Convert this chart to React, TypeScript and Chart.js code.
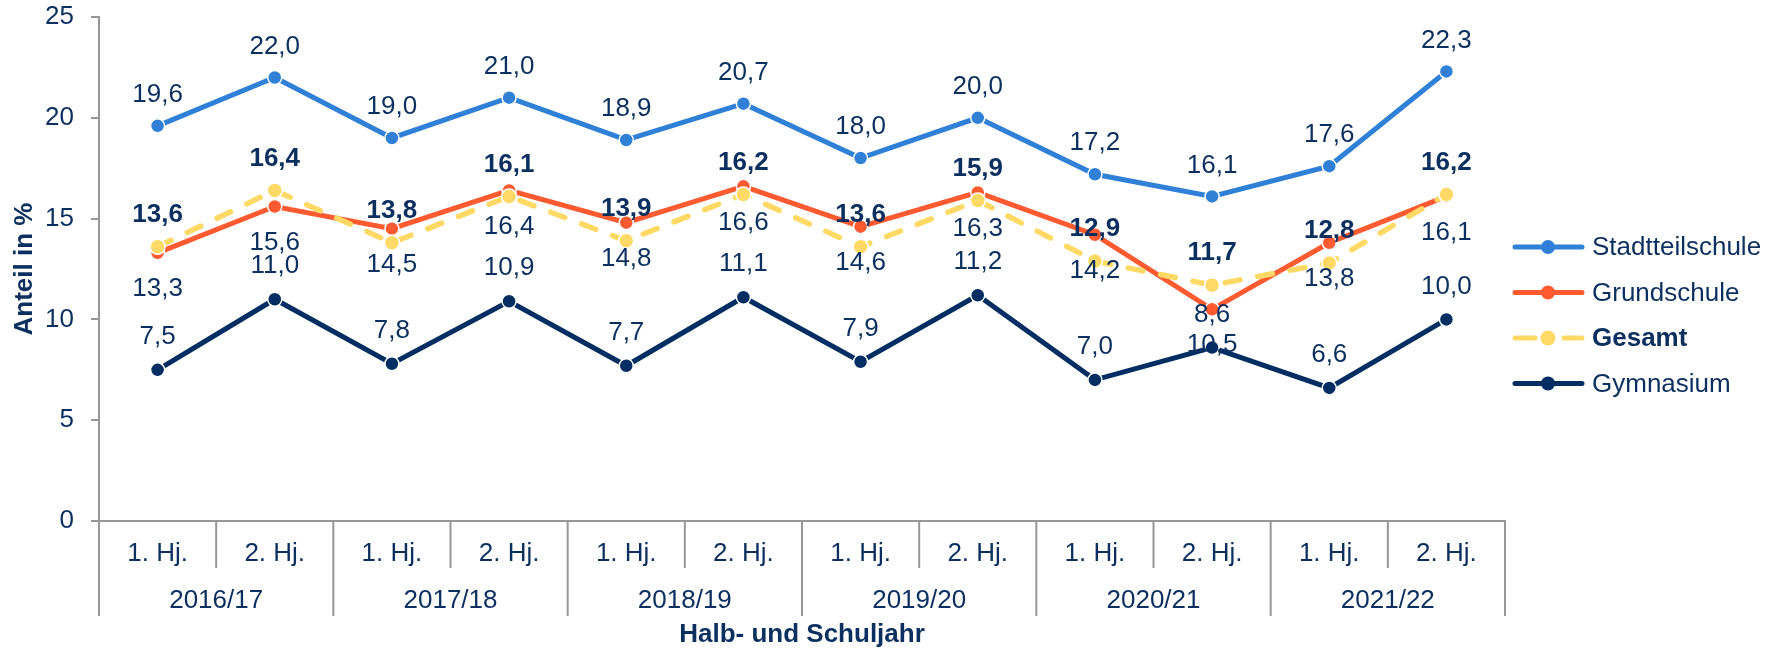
import React, { useEffect, useRef } from 'react';
import { Chart, registerables } from 'chart.js';

Chart.register(...registerables);

// ---------- data ----------
const halfYears = ['1. Hj.', '2. Hj.', '1. Hj.', '2. Hj.', '1. Hj.', '2. Hj.', '1. Hj.', '2. Hj.', '1. Hj.', '2. Hj.', '1. Hj.', '2. Hj.'];
const schoolYears = ['2016/17', '2017/18', '2018/19', '2019/20', '2020/21', '2021/22'];
const stadtteilschule = [19.6, 22.0, 19.0, 21.0, 18.9, 20.7, 18.0, 20.0, 17.2, 16.1, 17.6, 22.3];
const grundschule = [13.3, 15.6, 14.5, 16.4, 14.8, 16.6, 14.6, 16.3, 14.2, 10.5, 13.8, 16.1];
const gesamt = [13.6, 16.4, 13.8, 16.1, 13.9, 16.2, 13.6, 15.9, 12.9, 11.7, 12.8, 16.2];
const gymnasium = [7.5, 11.0, 7.8, 10.9, 7.7, 11.1, 7.9, 11.2, 7.0, 8.6, 6.6, 10.0];
const yMin = 0;
const yMax = 25;
const yStep = 5;
const yAxisTitle = 'Anteil in %';
const xAxisTitle = 'Halb- und Schuljahr';

// ---------- style ----------
const FONT = '"Liberation Sans", Arial, Helvetica, sans-serif';
const TEXT = '#0b2f5e';
const AXIS = '#979797';
const C_STADT = '#2f80d6';
const C_GRUND = '#ff5a30';
const C_GESAMT = '#ffd966';
const C_GYM = '#002d62';
const FS = 26;

const fmt = (v: number) => v.toFixed(1).replace('.', ',');

const decorPlugin = {
  id: 'decor',
  afterDatasetsDraw(chart: any) {
    const ctx = chart.ctx;
    ctx.save();
    ctx.textAlign = 'center';
    ctx.textBaseline = 'middle';
    ctx.fillStyle = TEXT;
    chart.data.datasets.forEach((ds: any, di: number) => {
      const meta = chart.getDatasetMeta(di);
      ctx.font = `${ds.labelBold ? 'bold ' : ''}${FS}px ${FONT}`;
      meta.data.forEach((pt: any, i: number) => {
        ctx.fillText(fmt(ds.data[i]), pt.x, pt.y + ds.labelOffset);
      });
    });
    ctx.restore();
  },
  afterDraw(chart: any) {
    const ctx = chart.ctx;
    const xs = chart.scales.x;
    const area = chart.chartArea;
    const n = halfYears.length;
    ctx.save();
    // separators below the x axis
    ctx.strokeStyle = AXIS;
    ctx.lineWidth = 2;
    for (let i = 0; i <= n; i++) {
      let px;
      if (i === 0) px = area.left;
      else if (i === n) px = area.right;
      else px = (xs.getPixelForValue(i - 1) + xs.getPixelForValue(i)) / 2;
      const len = i % 2 === 0 ? 95 : 47;
      ctx.beginPath();
      ctx.moveTo(px, area.bottom);
      ctx.lineTo(px, area.bottom + len);
      ctx.stroke();
    }
    // school year labels
    ctx.fillStyle = TEXT;
    ctx.textAlign = 'center';
    ctx.textBaseline = 'middle';
    ctx.font = `${FS}px ${FONT}`;
    schoolYears.forEach((lab, k) => {
      const cx = (xs.getPixelForValue(2 * k) + xs.getPixelForValue(2 * k + 1)) / 2;
      ctx.fillText(lab, cx, area.bottom + 80);
    });
    // x axis title
    ctx.font = `bold ${FS}px ${FONT}`;
    ctx.fillText(xAxisTitle, (area.left + area.right) / 2, area.bottom + 114);

    // legend
    const lx0 = area.right + 8;
    const lx1 = area.right + 79;
    const mx = area.right + 43;
    const tx = area.right + 87;
    const ly0 = 247;
    const gap = 45.5;
    chart.data.datasets.forEach((ds: any) => {
      const y = ly0 + gap * ds.legendIndex;
      ctx.strokeStyle = ds.borderColor;
      ctx.lineWidth = 5;
      ctx.lineCap = 'round';
      if (ds.borderDash && ds.borderDash.length) {
        ctx.beginPath();
        ctx.moveTo(lx0 + 2, y); ctx.lineTo(lx0 + 22, y);
        ctx.moveTo(lx1 - 20, y); ctx.lineTo(lx1 - 2, y);
        ctx.stroke();
      } else {
        ctx.beginPath();
        ctx.moveTo(lx0 + 2, y); ctx.lineTo(lx1 - 2, y);
        ctx.stroke();
      }
      ctx.beginPath();
      ctx.fillStyle = ds.pointBackgroundColor;
      ctx.arc(mx, y, ds.pointRadius, 0, Math.PI * 2);
      ctx.fill();
      ctx.fillStyle = TEXT;
      ctx.textAlign = 'left';
      ctx.textBaseline = 'middle';
      ctx.font = `${ds.labelBold ? 'bold ' : ''}${FS}px ${FONT}`;
      ctx.fillText(ds.label, tx, y + 1);
    });
    ctx.restore();
  },
};

export default function App() {
  const ref = useRef<HTMLCanvasElement | null>(null);

  useEffect(() => {
    document.body.style.margin = '0';
    const canvas = ref.current;
    if (!canvas) return;
    Chart.defaults.font.family = FONT;
    const common = {
      pointBorderColor: '#ffffff',
      pointBorderWidth: 1.5,
      tension: 0,
      fill: false,
    };
    const chart = new Chart(canvas, {
      type: 'line',
      data: {
        labels: halfYears,
        datasets: [
          {
            ...common,
            label: 'Stadtteilschule',
            data: stadtteilschule,
            borderColor: C_STADT,
            backgroundColor: C_STADT,
            pointBackgroundColor: C_STADT,
            borderWidth: 5,
            pointRadius: 7,
            order: 4,
            labelOffset: -31,
            labelBold: false,
            legendIndex: 0,
          } as any,
          {
            ...common,
            label: 'Grundschule',
            data: grundschule,
            borderColor: C_GRUND,
            backgroundColor: C_GRUND,
            pointBackgroundColor: C_GRUND,
            borderWidth: 5,
            pointRadius: 7,
            order: 3,
            labelOffset: 36,
            labelBold: false,
            legendIndex: 1,
          } as any,
          {
            ...common,
            label: 'Gesamt',
            data: gesamt,
            borderColor: C_GESAMT,
            backgroundColor: C_GESAMT,
            pointBackgroundColor: C_GESAMT,
            borderWidth: 5.5,
            borderDash: [15, 18],
            borderCapStyle: 'round',
            pointRadius: 7.5,
            order: 2,
            labelOffset: -32,
            labelBold: true,
            legendIndex: 2,
          } as any,
          {
            ...common,
            label: 'Gymnasium',
            data: gymnasium,
            borderColor: C_GYM,
            backgroundColor: C_GYM,
            pointBackgroundColor: C_GYM,
            borderWidth: 5,
            pointRadius: 7,
            order: 1,
            labelOffset: -33,
            labelBold: false,
            legendIndex: 3,
          } as any,
        ],
      },
      options: {
        responsive: false,
        animation: false,
        events: [],
        layout: { padding: { left: 0, top: 17, right: 276, bottom: 0 } },
        plugins: {
          legend: { display: false },
          tooltip: { enabled: false },
          title: { display: false },
        },
        scales: {
          x: {
            type: 'category',
            offset: true,
            grid: { display: false, drawTicks: false, drawOnChartArea: false },
            border: { display: true, color: AXIS, width: 2 },
            ticks: {
              color: TEXT,
              font: { size: FS },
              padding: 17,
              maxRotation: 0,
              autoSkip: false,
            },
            afterFit: (s: any) => {
              s.height = 129;
              s.paddingLeft = 0;
              s.paddingRight = 0;
            },
          },
          y: {
            min: yMin,
            max: yMax,
            grid: {
              display: true,
              drawOnChartArea: false,
              drawTicks: true,
              tickLength: 8,
              color: AXIS,
              lineWidth: 2,
            },
            border: { display: true, color: AXIS, width: 2 },
            ticks: {
              stepSize: yStep,
              color: TEXT,
              font: { size: FS },
              padding: 17,
            },
            title: {
              display: true,
              text: yAxisTitle,
              color: TEXT,
              font: { size: FS, weight: 'bold' },
              padding: { top: 9, bottom: 0 },
            },
            afterFit: (s: any) => {
              s.width = 99;
              s.paddingTop = 0;
              s.paddingBottom = 0;
            },
          },
        },
      } as any,
      plugins: [decorPlugin],
    });
    return () => chart.destroy();
  }, []);

  return (
    <div style={{ width: 1781, height: 650, position: 'relative' }}>
      <canvas ref={ref} width={1781} height={650} style={{ display: 'block', width: 1781, height: 650 }} />
    </div>
  );
}
